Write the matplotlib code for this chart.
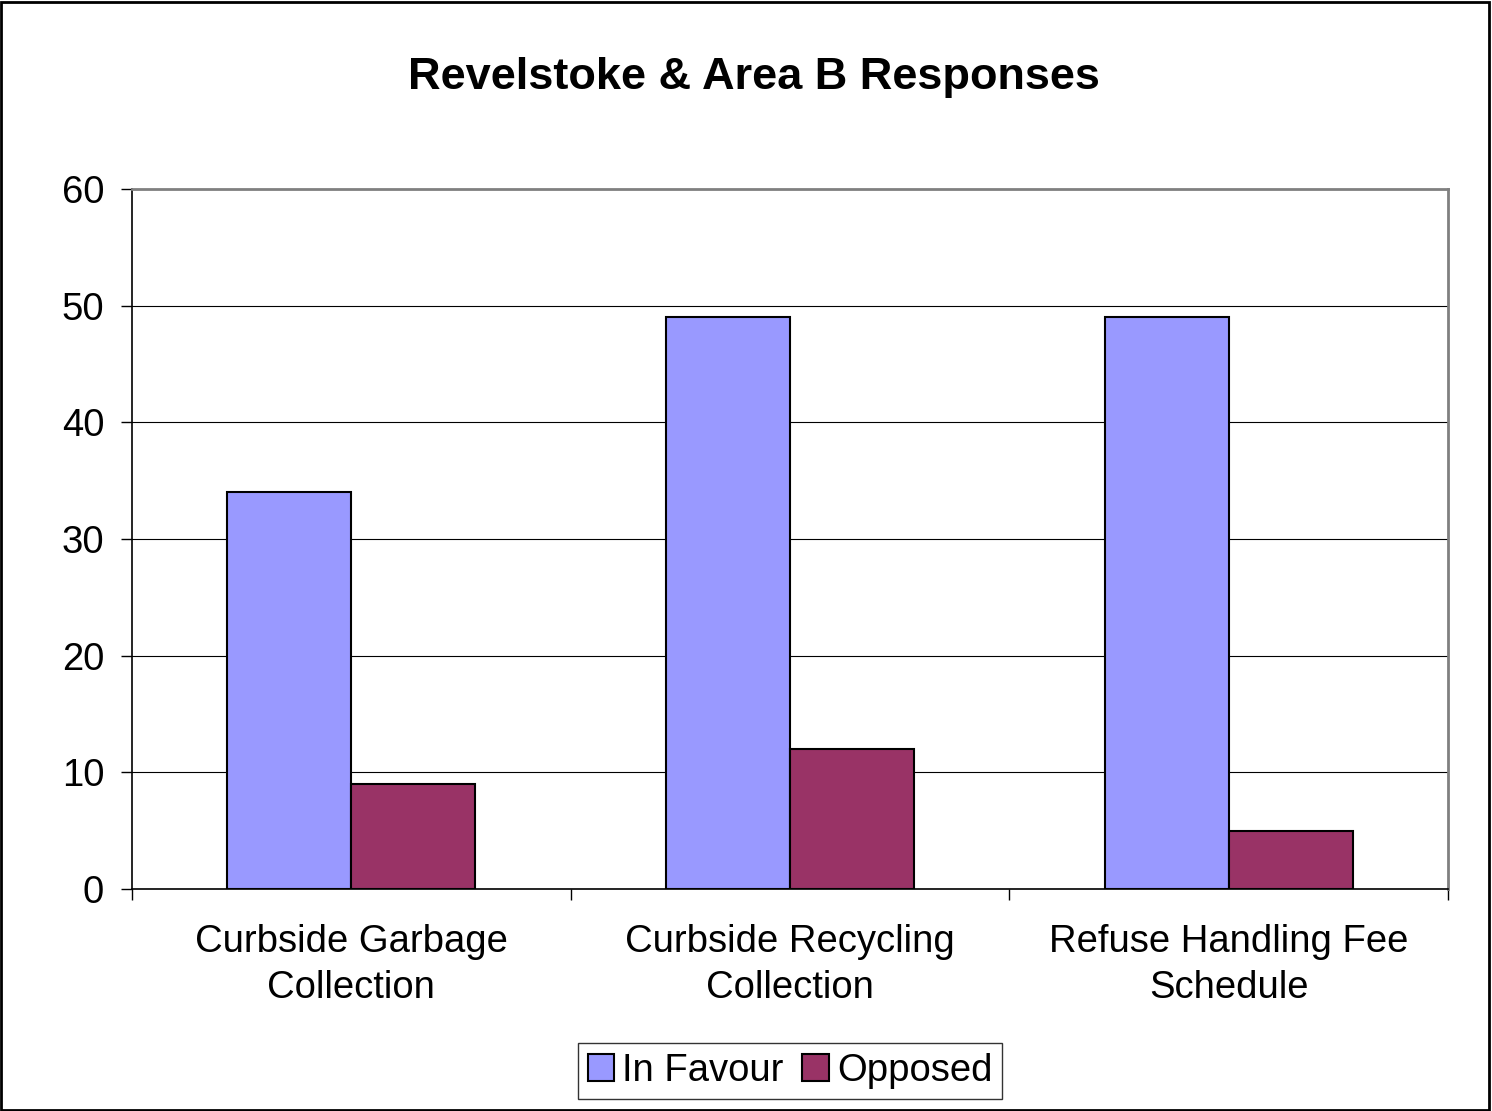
import numpy as np
import matplotlib.pyplot as plt

plt.rcParams['font.family'] = ['Liberation Sans', 'DejaVu Sans']

CATEGORIES = ['Curbside Garbage\nCollection', 'Curbside Recycling\nCollection',
              'Refuse Handling Fee\nSchedule']
IN_FAVOUR = [34, 49, 49]
OPPOSED = [9, 12, 5]
SERIES = ['In Favour', 'Opposed']
COLORS = ['#9999FF', '#993366']

fig = plt.figure(figsize=(14.92, 11.11), dpi=100)
ax = fig.add_axes([132 / 1492, 1 - 889 / 1111, 1316 / 1492, 700 / 1111])

x = np.arange(len(CATEGORIES))
width = 0.283
for vals, off, name, col in zip([IN_FAVOUR, OPPOSED], [-width / 2, width / 2], SERIES, COLORS):
    ax.bar(x + off, vals, width, color=col, edgecolor='black', linewidth=1.5,
           label=name, zorder=3)

ax.set_xlim(-0.5, len(CATEGORIES) - 0.5)
ax.set_ylim(0, 60)
ax.set_yticks(range(0, 61, 10))
ax.tick_params(axis='y', labelsize=27.5, length=8, width=1, direction='out', pad=12)

# category boundary ticks, labels in the middle
ax.set_xticks(np.arange(-0.5, len(CATEGORIES), 1.0))
ax.set_xticklabels([])
ax.set_xticks(x, minor=True)
ax.set_xticklabels(CATEGORIES, minor=True, fontsize=27.5, linespacing=1.35)
ax.tick_params(axis='x', which='major', length=8, width=1, direction='out')
ax.tick_params(axis='x', which='minor', length=0, pad=25)

ax.yaxis.grid(True, color='black', linewidth=0.8, zorder=0)
for side in ['top', 'right']:
    ax.spines[side].set_color('#808080')
    ax.spines[side].set_linewidth(2)
for side in ['left', 'bottom']:
    ax.spines[side].set_color('black')
    ax.spines[side].set_linewidth(1.2)

fig.suptitle('Revelstoke & Area B Responses', x=754 / 1492, y=1 - 77 / 1111,
             va='center', fontsize=32.5, fontweight='bold')

leg = fig.legend(loc='center', bbox_to_anchor=(790 / 1492, 1 - 1071 / 1111), ncol=2,
                 fontsize=27.5, frameon=True, fancybox=False, edgecolor='black',
                 handlelength=0.7, handleheight=0.7, handletextpad=0.2,
                 columnspacing=0.5, borderpad=0.25, borderaxespad=0)
leg.get_frame().set_linewidth(1.0)

# outer chart border
fig.patches.append(plt.Rectangle((0.001, 0.001), 0.997, 0.997, transform=fig.transFigure,
                                 fill=False, edgecolor='black', linewidth=2))

fig.savefig('out.png', dpi=100)
